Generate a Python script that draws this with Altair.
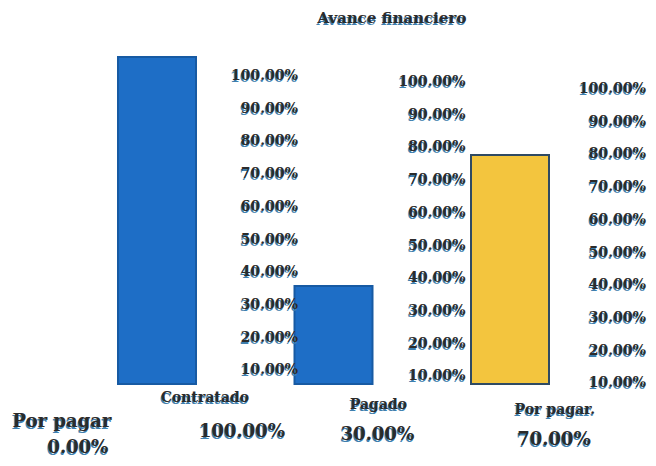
import altair as alt
import pandas as pd

# ---- data ----
title_text = "Avance financiero"
categories = ["Contratado", "Pagado", "Por pagar."]
values = [1.00, 0.30, 0.70]
value_labels = ["100.00%", "30.00%", "70.00%"]
tick_values = [0.1, 0.2, 0.3, 0.4, 0.5, 0.6, 0.7, 0.8, 0.9, 1.0]
tick_labels = ["10.00%", "20.00%", "30.00%", "40.00%", "50.00%",
               "60.00%", "70.00%", "80.00%", "90.00%", "100.00%"]
extra_name = "Por pagar"
extra_value_label = "0.00%"
bar_colors = ["#1e6ec6", "#1e6ec6", "#f3c53e"]
bar_strokes = ["#175aa3", "#175aa3", "#2f4a63"]

# ---- styles ----
FONT = "DejaVu Serif"
TXT = "#2b2b2b"
SHADOW = "#3f7fae"

bars_df = pd.DataFrame({"cat": categories, "val": values,
                        "vlabel": value_labels, "base": [0.0] * 3})
ticks_df = pd.DataFrame([{"cat": c, "t": v, "tl": l}
                         for c in categories
                         for v, l in zip(tick_values, tick_labels)])
extra_df = pd.DataFrame({"cat": [categories[0]], "name": [extra_name],
                         "vl": [extra_value_label], "base": [0.0]})
title_df = pd.DataFrame({"title": [title_text]})

xs = alt.Scale(type="point", domain=categories, range=[149, 502], padding=0)
ys = alt.Scale(domain=[0, 1], range=[376, 49])


def X():
    return alt.X("cat:N", scale=xs, axis=None)


def Y(field):
    return alt.Y(f"{field}:Q", scale=ys, axis=None)


def shadow_text(df, field, yfield, size, dx, dy, align="center", cat=None):
    layers = []
    base = alt.Chart(df)
    if cat is not None:
        base = base.transform_filter(alt.datum.cat == cat)
    for col, ox, oy in [(SHADOW, -1, 2), (TXT, 0, 0)]:
        layers.append(
            base.mark_text(font=FONT, fontWeight="bold", fontSize=size,
                           color=col, align=align, baseline="middle",
                           dx=dx + ox, dy=dy + oy)
            .encode(x=X(), y=Y(yfield), text=f"{field}:N")
        )
    return layers


layers = []

# bars
layers.append(
    alt.Chart(bars_df).mark_bar(width=78, strokeWidth=2).encode(
        x=X(), y=Y("val"), y2=alt.Y2("base"),
        color=alt.Color("cat:N", scale=alt.Scale(domain=categories, range=bar_colors), legend=None),
        stroke=alt.Stroke("cat:N", scale=alt.Scale(domain=categories, range=bar_strokes), legend=None),
    )
)

# per-panel tick labels on the right of each bar
tick_dx = [141, 132, 136]
tick_dy = [19, 25, 32]
for i, c in enumerate(categories):
    layers += shadow_text(ticks_df, "tl", "t", 14, tick_dx[i], tick_dy[i], align="right", cat=c)

# category names and value labels below the bars
name_dx = [48, 45, 45]
name_dy = [14, 21, 26]
val_dx = [85, 44, 44]
val_dy = [48, 51, 56]
for i, c in enumerate(categories):
    layers += shadow_text(bars_df, "cat", "base", 14, name_dx[i], name_dy[i], cat=c)
    layers += shadow_text(bars_df, "vlabel", "base", 18, val_dx[i], val_dy[i], cat=c)

# extra "Por pagar 0.00%" label at the far left
layers += shadow_text(extra_df, "name", "base", 18, -95, 38)
layers += shadow_text(extra_df, "vl", "base", 18, -79, 64)

# title
for col, ox, oy in [(SHADOW, -1, 2), (TXT, 0, 0)]:
    layers.append(
        alt.Chart(title_df).mark_text(font=FONT, fontWeight="bold", fontSize=15,
                                      color=col, align="center", baseline="middle",
                                      dx=ox, dy=oy)
        .encode(x=alt.value(384), y=alt.value(10), text="title:N")
    )

chart = alt.layer(*layers).properties(
    width=640, height=450,
    autosize=alt.AutoSizeParams(type="none"),
    padding=0,
    background="white",
).configure_view(stroke=None)

chart.save("out.html", embed_options={"renderer": "svg", "actions": False})
